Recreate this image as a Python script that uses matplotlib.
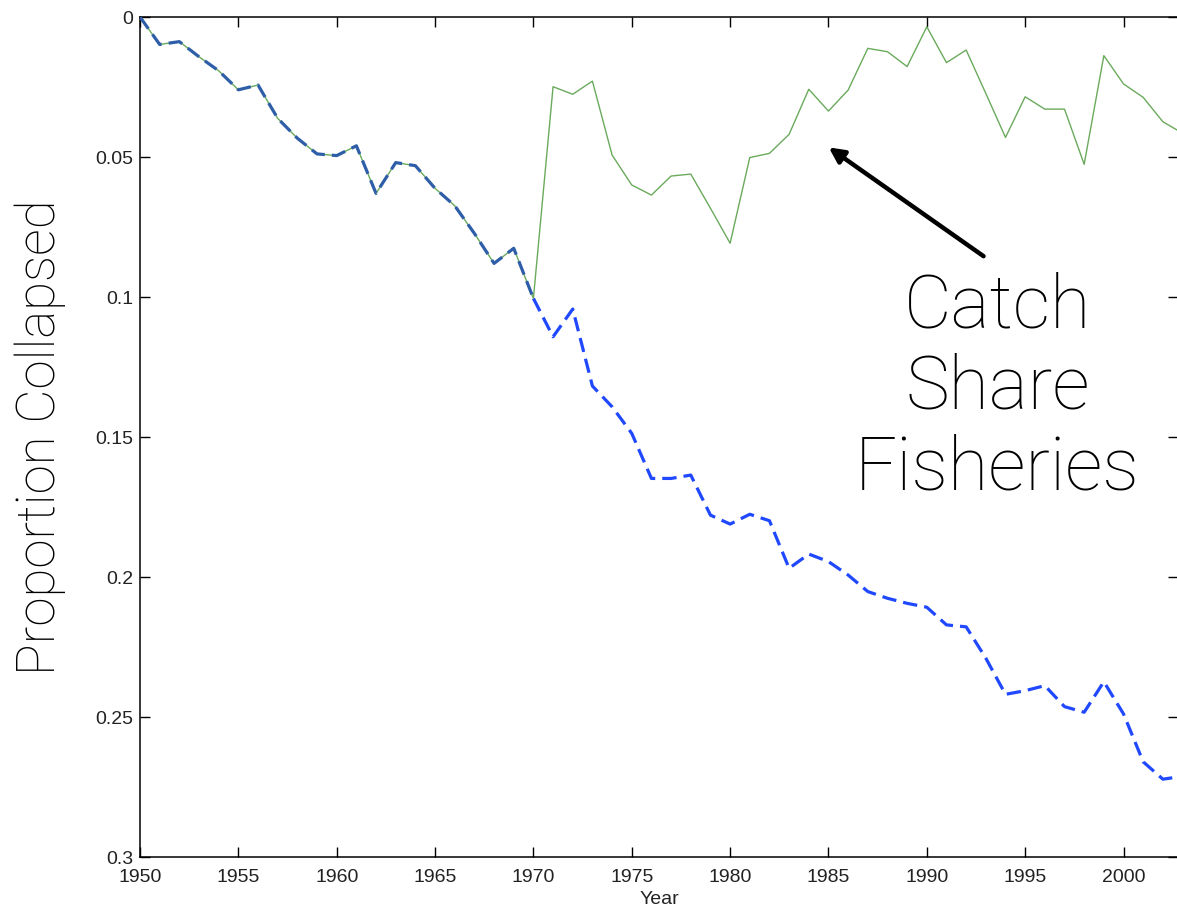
import matplotlib
matplotlib.use("Agg")
import matplotlib.pyplot as plt
import numpy as np

years = list(range(1950, 2004))

# proportion collapsed, all fisheries (dashed) and catch-share fisheries (solid)
all_fisheries = [
    0.000, 0.0098, 0.0088, 0.0142, 0.0192, 0.0260, 0.0243, 0.0362, 0.0433, 0.0489,
    0.0495, 0.0460, 0.0630, 0.0520, 0.0531, 0.0612, 0.0674, 0.0773, 0.0880, 0.0826,
    0.1005, 0.1142, 0.1043, 0.1318, 0.1392, 0.1487, 0.1648, 0.1648, 0.1636, 0.1779,
    0.1811, 0.1776, 0.1799, 0.1969, 0.1918, 0.1945, 0.1993, 0.2052, 0.2076, 0.2094,
    0.2108, 0.2171, 0.2178, 0.2290, 0.2419, 0.2406, 0.2388, 0.2463, 0.2483, 0.2374,
    0.2489, 0.2660, 0.2722, 0.2712,
]
catch_share = [
    0.000, 0.0098, 0.0088, 0.0142, 0.0192, 0.0260, 0.0243, 0.0362, 0.0433, 0.0489,
    0.0495, 0.0460, 0.0630, 0.0520, 0.0531, 0.0612, 0.0674, 0.0773, 0.0880, 0.0826,
    0.1005, 0.0249, 0.0276, 0.0229, 0.0493, 0.0600, 0.0636, 0.0568, 0.0561, 0.0683,
    0.0808, 0.0502, 0.0487, 0.0419, 0.0258, 0.0336, 0.0261, 0.0112, 0.0124, 0.0177,
    0.0035, 0.0163, 0.0118, 0.0273, 0.0430, 0.0285, 0.0329, 0.0329, 0.0526, 0.0138,
    0.0239, 0.0287, 0.0374, 0.0415,
]
split_year = 1970

yr = np.array(years)
allf = np.array(all_fisheries)
cs = np.array(catch_share)
early = yr <= split_year
late = yr >= split_year

W, H = 1177, 915
fig = plt.figure(figsize=(W / 100, H / 100), dpi=100)
ax = fig.add_axes([140 / W, (H - 857) / H, 1038 / W, 840 / H])

ax.plot(yr[late], allf[late], color="#1f48ff", lw=2.3, ls=(0, (4.5, 2.2)), zorder=2)
ax.plot(yr, cs, color="#6aaa5c", lw=1.0, zorder=3)
ax.plot(yr[early], allf[early], color="#2f5ea8", lw=2.3, ls=(0, (4.5, 2.2)), zorder=4)

ax.set_xlim(1950, 2002.77)
ax.set_ylim(0.3, 0)
ax.set_xticks(np.arange(1950, 2001, 5))
ax.set_yticks([0, 0.05, 0.1, 0.15, 0.2, 0.25, 0.3])
ax.set_yticklabels(["0", "0.05", "0.1", "0.15", "0.2", "0.25", "0.3"])
ax.tick_params(direction="in", length=7, width=1, top=True, right=True,
               labelsize=14)
ax.tick_params(axis="x", pad=9)
ax.tick_params(axis="y", pad=5)
for lab in ax.get_xticklabels() + ax.get_yticklabels():
    lab.set_family("Liberation Sans")
    lab.set_color("#222222")
for sp in ax.spines.values():
    sp.set_linewidth(1.1)

ax.set_xlabel("Year", family="Liberation Sans", fontsize=14, labelpad=3,
              color="#222222")
ax.set_ylabel("Proportion Collapsed", family=["Roboto", "DejaVu Sans"],
              fontweight="light", fontsize=38, labelpad=21)

ax.annotate("", xy=(1984.9, 0.046), xytext=(1993.0, 0.086),
            arrowprops=dict(arrowstyle="-|>,head_length=0.9,head_width=0.45",
                            color="black", lw=3.2))
ax.text(1993.6, 0.1325, "Catch\nShare\nFisheries", family=["Roboto", "DejaVu Sans"],
        fontweight="light", fontsize=53, ha="center", va="center", linespacing=1.18)

fig.savefig("out.png", dpi=100)
